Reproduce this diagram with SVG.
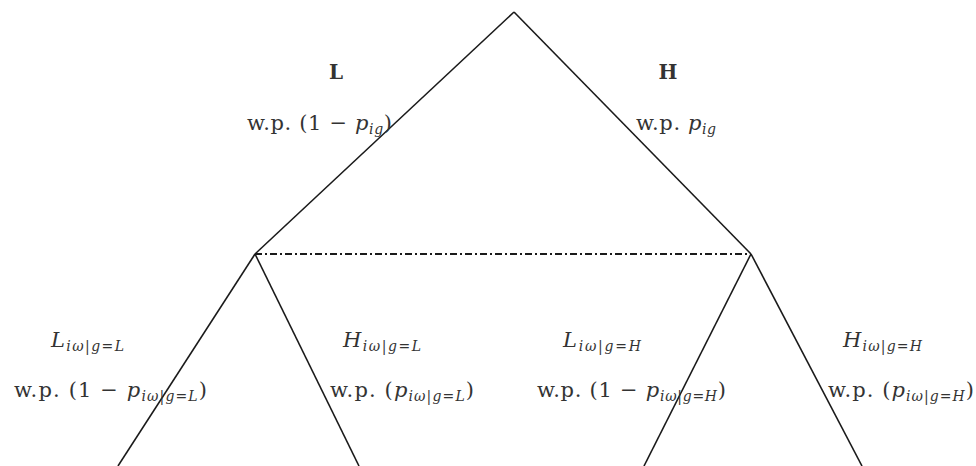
<svg xmlns="http://www.w3.org/2000/svg" width="976" height="466" viewBox="0 0 976 466">
<style>
.ln{stroke:#1a1a1a;stroke-width:1.6;fill:none}
.dd{stroke:#1a1a1a;stroke-width:1.8;fill:none;stroke-dasharray:7 3 2 3}
text{font-family:"DejaVu Serif","Liberation Serif",serif;font-size:21px;fill:#333}
.v{font-style:italic}
.s{font-size:14px;font-style:italic}
.b{font-weight:bold;font-size:20px}
</style>
<rect width="976" height="466" fill="#fff"/>
<g id="connectors">
<line class="ln" x1="514" y1="12" x2="255" y2="254"/>
<line class="ln" x1="514" y1="12" x2="751" y2="254"/>
<line class="dd" x1="255" y1="254" x2="751" y2="254"/>
<line class="ln" x1="255" y1="254" x2="118" y2="466"/>
<line class="ln" x1="255" y1="254" x2="359" y2="466"/>
<line class="ln" x1="751" y1="254" x2="644" y2="466"/>
<line class="ln" x1="751" y1="254" x2="862" y2="466"/>
</g>
<g id="node-L">
<text x="336" y="79" class="b" text-anchor="middle">L</text>
<text x="247" y="130" textLength="145" lengthAdjust="spacing">w.p. (1 − <tspan class="v">p</tspan><tspan class="s" dy="4">ig</tspan><tspan dy="-4">)</tspan></text>
</g>
<g id="node-H">
<text x="668" y="79" class="b" text-anchor="middle">H</text>
<text x="636" y="130" textLength="80" lengthAdjust="spacing">w.p. <tspan class="v">p</tspan><tspan class="s" dy="4">ig</tspan></text>
</g>
<g id="leaf-LL">
<text x="51" y="347" class="v" textLength="73" lengthAdjust="spacing">L<tspan class="s" dy="4">iω|g=L</tspan></text>
<text x="14" y="397" textLength="193" lengthAdjust="spacing">w.p.  (1 − <tspan class="v">p</tspan><tspan class="s" dy="4">iω|g=L</tspan><tspan dy="-4">)</tspan></text>
</g>
<g id="leaf-LH">
<text x="343" y="347" class="v" textLength="78" lengthAdjust="spacing">H<tspan class="s" dy="4">iω|g=L</tspan></text>
<text x="330" y="397" textLength="144" lengthAdjust="spacing">w.p. (<tspan class="v">p</tspan><tspan class="s" dy="4">iω|g=L</tspan><tspan dy="-4">)</tspan></text>
</g>
<g id="leaf-HL">
<text x="563" y="347" class="v" textLength="78" lengthAdjust="spacing">L<tspan class="s" dy="4">iω|g=H</tspan></text>
<text x="537" y="397" textLength="189" lengthAdjust="spacing">w.p. (1 − <tspan class="v">p</tspan><tspan class="s" dy="4">iω|g=H</tspan><tspan dy="-4">)</tspan></text>
</g>
<g id="leaf-HH">
<text x="843" y="347" class="v" textLength="79" lengthAdjust="spacing">H<tspan class="s" dy="4">iω|g=H</tspan></text>
<text x="828" y="397" textLength="146" lengthAdjust="spacing">w.p. (<tspan class="v">p</tspan><tspan class="s" dy="4">iω|g=H</tspan><tspan dy="-4">)</tspan></text>
</g>
</svg>
